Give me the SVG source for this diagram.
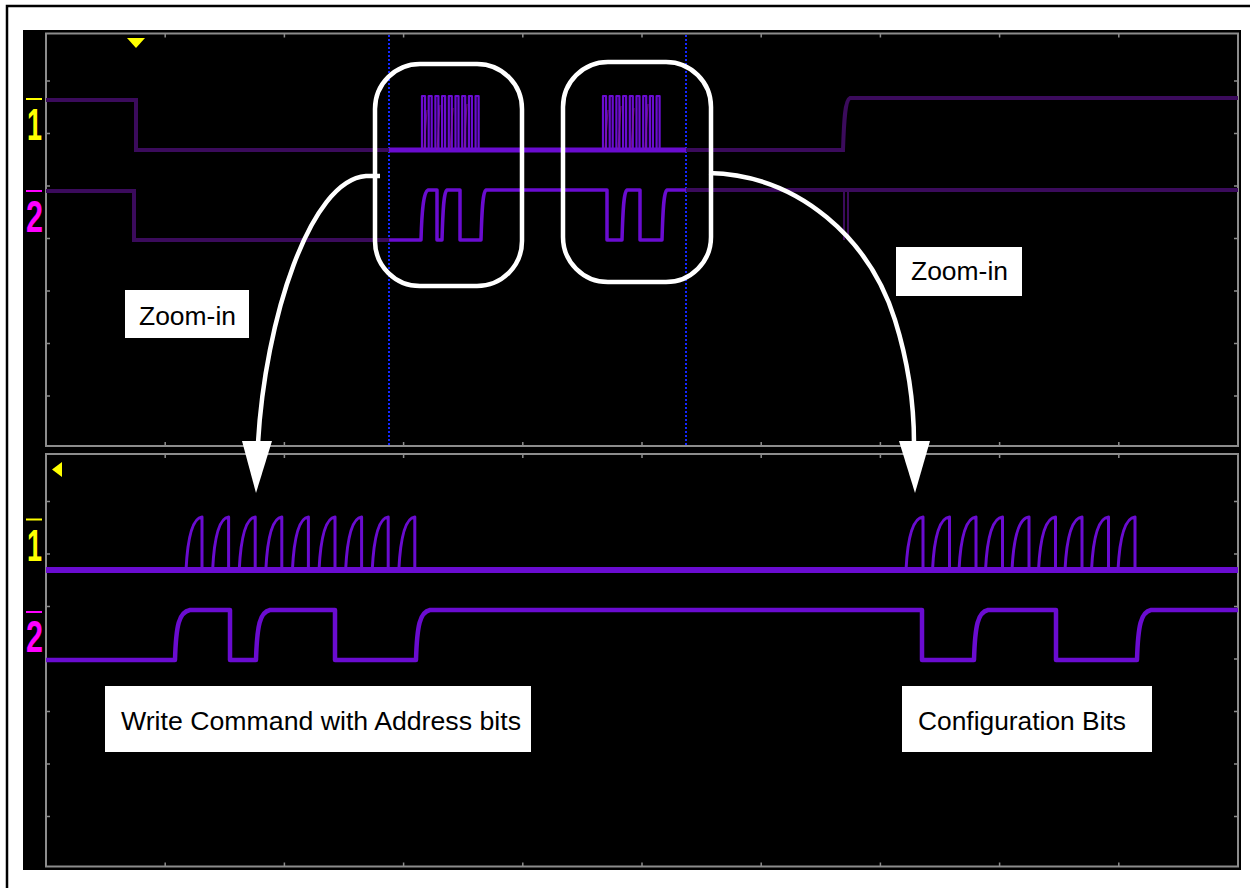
<svg xmlns="http://www.w3.org/2000/svg" width="1250" height="888" viewBox="0 0 1250 888">
<style>
.grid{fill:none;stroke:#8c8c8c;stroke-width:2}
.tick{fill:none;stroke:#8c8c8c;stroke-width:1.5}
.dim{fill:none;stroke:#3b0b5c;stroke-width:4}
.bright{fill:none;stroke:#6a0cd0;stroke-linejoin:round}
.cursor{fill:none;stroke:#1428ff;stroke-width:2;stroke-dasharray:2 2}
.ann{fill:none;stroke:#ffffff;stroke-width:4.5}
.box{fill:#ffffff}
.lbl{font-family:"Liberation Sans",Arial,sans-serif;font-size:26.5px;fill:#000000}
.ch{font-family:"Liberation Sans",Arial,sans-serif;font-weight:bold;font-size:44px}
</style>
<rect width="1250" height="888" fill="#ffffff"/>
<path d="M7,888 V6 H1250" fill="none" stroke="#000" stroke-width="2.5"/>
<rect x="23" y="30" width="1218" height="840" fill="#000000"/>

<g id="grid">
<rect class="grid" x="46" y="33.5" width="1192" height="412.5"/>
<rect class="grid" x="46" y="454" width="1192" height="412.5"/>
<path class="tick" d="M165.2,33.5v4M284.4,33.5v4M403.6,33.5v4M522.8,33.5v4M642,33.5v4M761.2,33.5v4M880.4,33.5v4M999.6,33.5v4M1118.8,33.5v4
M165.2,446v-4M284.4,446v-4M403.6,446v-4M522.8,446v-4M642,446v-4M761.2,446v-4M880.4,446v-4M999.6,446v-4M1118.8,446v-4
M165.2,454v4M284.4,454v4M403.6,454v4M522.8,454v4M642,454v4M761.2,454v4M880.4,454v4M999.6,454v4M1118.8,454v4
M165.2,866.5v-4M284.4,866.5v-4M403.6,866.5v-4M522.8,866.5v-4M642,866.5v-4M761.2,866.5v-4M880.4,866.5v-4M999.6,866.5v-4M1118.8,866.5v-4
M46,81h4M46,133.5h4M46,186h4M46,238.5h4M46,291h4M46,343.5h4M46,396h4
M1238,81h-4M1238,133.5h-4M1238,186h-4M1238,238.5h-4M1238,291h-4M1238,343.5h-4M1238,396h-4
M46,501.5h4M46,554h4M46,606.5h4M46,659h4M46,711.5h4M46,764h4M46,816.5h4
M1238,501.5h-4M1238,554h-4M1238,606.5h-4M1238,659h-4M1238,711.5h-4M1238,764h-4M1238,816.5h-4"/>
</g>

<g id="cursors">
<line class="cursor" x1="389" y1="35" x2="389" y2="445"/>
<line class="cursor" x1="686" y1="35" x2="686" y2="445"/>
</g>

<g id="markers">
<polygon points="127,38 145,38 136,48" fill="#ffff00"/>
<polygon points="62,462 62,477 52,469.5" fill="#ffff00"/>
<line x1="26" y1="99" x2="42" y2="99" stroke="#ffff00" stroke-width="2"/>
<text class="ch" x="27" y="140" fill="#ffff00" textLength="15" lengthAdjust="spacingAndGlyphs">1</text>
<line x1="26" y1="191" x2="42" y2="191" stroke="#ff00ff" stroke-width="2"/>
<text class="ch" x="26" y="232" fill="#ff00ff" textLength="17" lengthAdjust="spacingAndGlyphs">2</text>
<line x1="26" y1="519.5" x2="42" y2="519.5" stroke="#ffff00" stroke-width="2"/>
<text class="ch" x="27" y="561" fill="#ffff00" textLength="15" lengthAdjust="spacingAndGlyphs">1</text>
<line x1="26" y1="612" x2="42" y2="612" stroke="#ff00ff" stroke-width="2"/>
<text class="ch" x="26" y="652" fill="#ff00ff" textLength="17" lengthAdjust="spacingAndGlyphs">2</text>
</g>

<g id="upper-traces">
<path class="dim" d="M46,100 H136 V150 H389 M686,150 H843 C844,120 845,100 850,98 H1238"/>
<path class="dim" d="M46,191 H134 V240 H389 M686,190 H1238"/>
<path d="M844,190 V240 M848,240 V192" fill="none" stroke="#3b0b5c" stroke-width="2"/>
<path class="bright" stroke-width="5" d="M389,150 H686"/>
<path class="bright" stroke-width="2.2" d="M422,150 V96 H425 V150 H428.7 V96 H431.7 V150 H435.4 V96 H438.4 V150 H442.1 V96 H445.1 V150 H448.8 V96 H451.8 V150 H455.5 V96 H458.5 V150 H462.2 V96 H465.2 V150 H468.9 V96 H471.9 V150 H475.6 V96 H478.6 V150
M603,150 V96 H606 V150 H609.7 V96 H612.7 V150 H616.4 V96 H619.4 V150 H623.1 V96 H626.1 V150 H629.8 V96 H632.8 V150 H636.5 V96 H639.5 V150 H643.2 V96 H646.2 V150 H649.9 V96 H652.9 V150 H656.6 V96 H659.6 V150"/>
<path fill="none" stroke="#8a1a9a" stroke-width="1.2" opacity="0.7" d="M424,150 L427,110 M437,150 L440,105 M450,150 L453,108 M464,150 L467,104 M605,150 L608,110 M618,150 L621,106 M631,150 L634,108 M645,150 L648,104"/>
<path class="bright" stroke-width="3.5" d="M389,240 H421 C422,205 424,192 428,190 H437 V240 H442 C443,205 444,192 447,190 H460 V240 H481 C482,205 483,192 486,190 H607 V240 H622 C623,205 624,192 627,190 H640 V240 H662 C663,205 664,192 667,190 H686"/>
</g>

<g id="lower-traces">
<path class="bright" stroke-width="6" d="M46,570 H1238"/>
<path class="bright" stroke-width="3" d="M46,570 H186 C187.5,540 192,518 202,517 V570 H212.6 C214.1,540 218.6,518 228.6,517 V570 H239.2 C240.7,540 245.2,518 255.2,517 V570 H265.8 C267.3,540 271.8,518 281.8,517 V570 H292.4 C293.9,540 298.4,518 308.4,517 V570 H319 C320.5,540 325,518 335,517 V570 H345.6 C347.1,540 351.6,518 361.6,517 V570 H372.2 C373.7,540 378.2,518 388.2,517 V570 H398.8 C400.3,540 404.8,518 414.8,517 V570 H906 C907.5,540 912,518 923,517 V570 H932.5 C934,540 938.5,518 949.5,517 V570 H959 C960.5,540 965,518 976,517 V570 H985.5 C987,540 991.5,518 1002.5,517 V570 H1012 C1013.5,540 1018,518 1029,517 V570 H1038.5 C1040,540 1044.5,518 1055.5,517 V570 H1065 C1066.5,540 1071,518 1082,517 V570 H1091.5 C1093,540 1097.5,518 1108.5,517 V570 H1118 C1119.5,540 1124,518 1135,517 V570"/>
<path class="bright" stroke-width="4.5" d="M46,660 H175 C176,625 179,612 190,610 H230 V660 H256 C257,625 260,612 270,610 H335 V660 H416 C417,625 420,612 430,610 H922 V660 H974 C975,625 978,612 988,610 H1056 V660 H1137 C1138,625 1141,612 1151,610 H1238"/>
</g>

<g id="zoom-box-1"><rect class="ann" x="375" y="64" width="147" height="222" rx="45"/></g>
<g id="zoom-box-2"><rect class="ann" x="563" y="62" width="148" height="220" rx="45"/></g>

<g id="connectors">
<path class="ann" stroke-width="5" d="M380,176 H366 C310,180 265,320 258,443"/>
<polygon points="242,441 272,441 256,493" fill="#ffffff"/>
<path class="ann" stroke-width="5" d="M709,173 C800,175 870,240 895,320 C907.5,360 914,400 914,443"/>
<polygon points="899,441 930,441 915,493" fill="#ffffff"/>
</g>

<g id="label-zoom-left"><rect class="box" x="125" y="290" width="124" height="48"/><text class="lbl" x="139" y="325" textLength="97" lengthAdjust="spacingAndGlyphs">Zoom-in</text></g>
<g id="label-zoom-right"><rect class="box" x="896" y="247" width="126" height="49"/><text class="lbl" x="911" y="280" textLength="97" lengthAdjust="spacingAndGlyphs">Zoom-in</text></g>
<g id="label-write"><rect class="box" x="105" y="686" width="426" height="66"/><text class="lbl" x="121" y="730" textLength="400" lengthAdjust="spacingAndGlyphs">Write Command with Address bits</text></g>
<g id="label-config"><rect class="box" x="902" y="686" width="250" height="66"/><text class="lbl" x="918" y="730" textLength="208" lengthAdjust="spacingAndGlyphs">Configuration Bits</text></g>
</svg>
